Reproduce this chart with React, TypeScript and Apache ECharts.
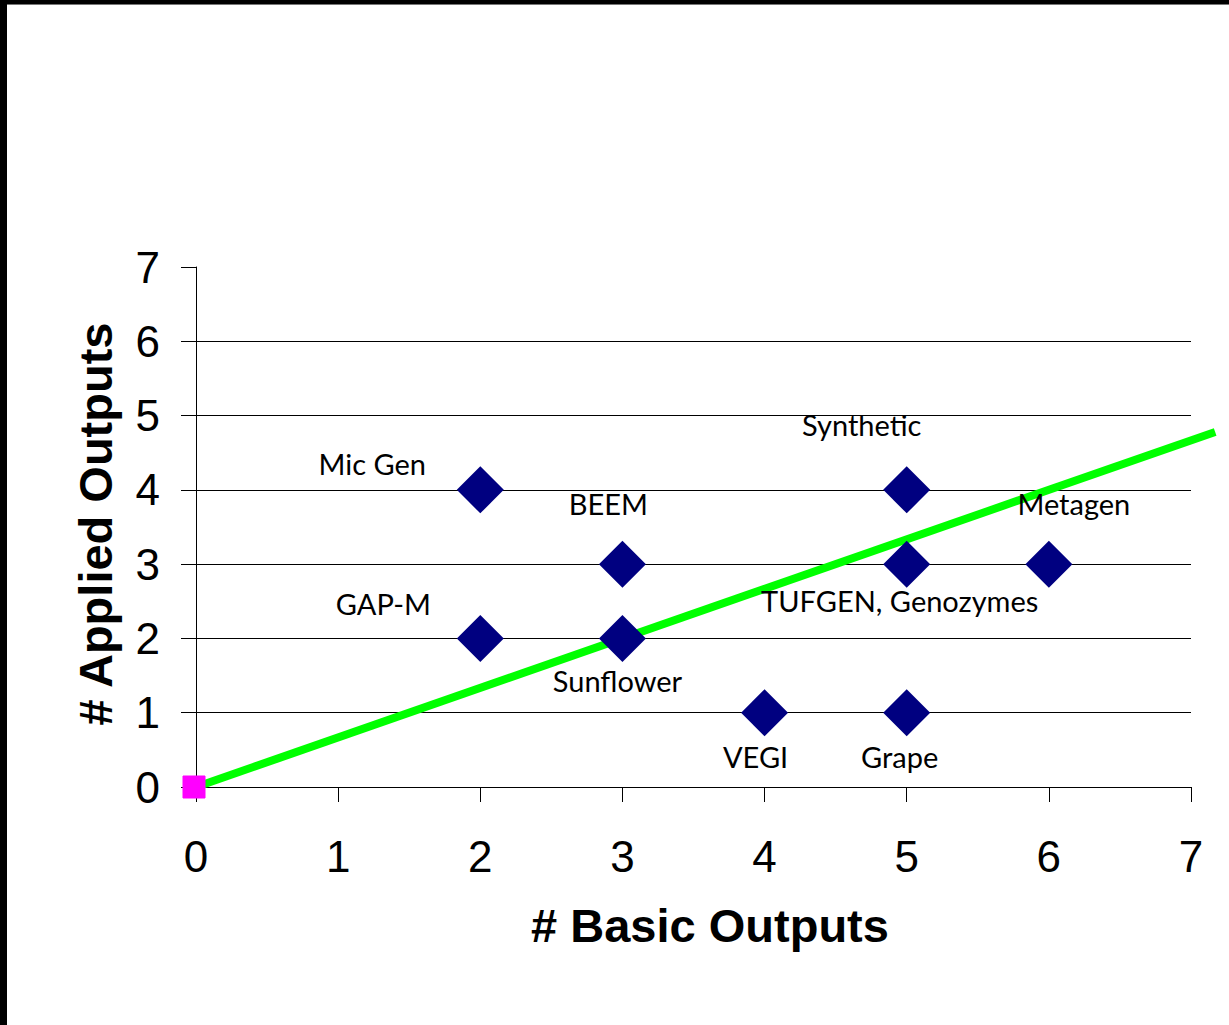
import React, { useEffect, useRef } from "react";
import * as echarts from "echarts";

// ---- data ----
const projectNames = [
  "Mic Gen",
  "GAP-M",
  "BEEM",
  "Sunflower",
  "VEGI",
  "Synthetic",
  "TUFGEN, Genozymes",
  "Grape",
  "Metagen",
];
const basicOutputs = [2, 2, 3, 3, 4, 5, 5, 5, 6];
const appliedOutputs = [4, 2, 3, 2, 1, 4, 3, 1, 3];
const originPoint = [0, 0];
const trendX = [0, 7.17];
const trendY = [0, 4.78];
const xTicks = [0, 1, 2, 3, 4, 5, 6, 7];
const yTicks = [0, 1, 2, 3, 4, 5, 6, 7];
const xTitle = "# Basic Outputs";
const yTitle = "# Applied Outputs";

// label placement (style, not data)
const labelOffsets: number[][] = [
  [-108, -26],
  [-97, -35],
  [-14, -61],
  [-5, 42],
  [-9, 44],
  [-45, -65],
  [-7, 36],
  [-7, 44],
  [25, -61],
];

export default function App() {
  const ref = useRef<HTMLDivElement>(null);
  useEffect(() => {
    if (!ref.current) return;
    const chart = echarts.init(ref.current, null, { renderer: "svg" });
    const axisFont = '"Liberation Sans", Arial, sans-serif';
    const option: any = {
      animation: false,
      backgroundColor: "#ffffff",
      grid: {
        left: 196,
        right: 38,
        top: 267,
        bottom: 238,
        containLabel: false,
        outerBoundsMode: "none",
      },
      xAxis: {
        type: "value",
        min: xTicks[0],
        max: xTicks[xTicks.length - 1],
        interval: 1,
        axisLine: { show: true, onZero: false, lineStyle: { color: "#000", width: 1 } },
        axisTick: { show: true, length: 15, lineStyle: { color: "#000", width: 1 } },
        axisLabel: {
          show: true,
          margin: 47,
          fontSize: 44,
          fontFamily: axisFont,
          color: "#000",
        },
        splitLine: { show: false },
      },
      yAxis: {
        type: "value",
        min: yTicks[0],
        max: yTicks[yTicks.length - 1],
        interval: 1,
        axisLine: { show: true, onZero: false, lineStyle: { color: "#000", width: 1 } },
        axisTick: { show: true, length: 15, lineStyle: { color: "#000", width: 1 } },
        axisLabel: {
          show: true,
          margin: 36,
          fontSize: 44,
          fontFamily: axisFont,
          color: "#000",
        },
        splitLine: {
          show: true,
          showMinLine: false,
          showMaxLine: false,
          lineStyle: { color: "#000", width: 1 },
        },
      },
      graphic: [
        { type: "rect", shape: { x: 0, y: 0, width: 1229, height: 4 }, style: { fill: "#000" }, z: 100 },
        { type: "rect", shape: { x: 0, y: 4, width: 1229, height: 1 }, style: { fill: "#777" }, z: 100 },
        { type: "rect", shape: { x: 0, y: 0, width: 7, height: 1025 }, style: { fill: "#000" }, z: 100 },
        {
          type: "text",
          x: 710,
          y: 925,
          style: {
            text: xTitle,
            fontSize: 47,
            fontWeight: "bold",
            fontFamily: axisFont,
            fill: "#000",
            textAlign: "center",
            textVerticalAlign: "middle",
          },
        },
        {
          type: "text",
          x: 95,
          y: 524,
          rotation: Math.PI / 2,
          style: {
            text: yTitle,
            fontSize: 47,
            fontWeight: "bold",
            fontFamily: axisFont,
            fill: "#000",
            textAlign: "center",
            textVerticalAlign: "middle",
          },
        },
      ],
      series: [
        {
          type: "custom",
          clip: false,
          silent: true,
          z: 2,
          data: [[trendX[0], trendY[0], trendX[1], trendY[1]]],
          encode: { x: [0, 2], y: [1, 3] },
          renderItem: (params: any, api: any) => {
            const p0 = api.coord([api.value(0), api.value(1)]);
            const p1 = api.coord([api.value(2), api.value(3)]);
            return {
              type: "line",
              shape: { x1: p0[0], y1: p0[1], x2: p1[0], y2: p1[1] },
              style: { stroke: "#00FF00", lineWidth: 8, fill: null },
            };
          },
        },
        {
          type: "scatter",
          symbol: "diamond",
          symbolSize: 47,
          itemStyle: { color: "#000080", opacity: 1 },
          emphasis: { disabled: true },
          z: 3,
          label: {
            show: true,
            position: "inside",
            formatter: (p: any) => p.name,
            fontFamily: 'Lato, "Open Sans", sans-serif',
            fontSize: 29,
            color: "#000",
          },
          data: projectNames.map((n, i) => ({
            name: n,
            value: [basicOutputs[i], appliedOutputs[i]],
            label: { offset: labelOffsets[i] },
          })),
        },
        {
          type: "scatter",
          symbol: "rect",
          symbolSize: 22,
          symbolOffset: [-2, 0],
          clip: false,
          itemStyle: { color: "#FF00FF", opacity: 1, borderColor: "#FF00FF", borderWidth: 1, borderJoin: "round" },
          emphasis: { disabled: true },
          z: 4,
          data: [originPoint],
        },
      ],
    };
    chart.setOption(option);
    return () => chart.dispose();
  }, []);
  return (
    <div
      ref={ref}
      style={{ position: "fixed", left: 0, top: 0, width: 1229, height: 1025, background: "#fff" }}
    />
  );
}
